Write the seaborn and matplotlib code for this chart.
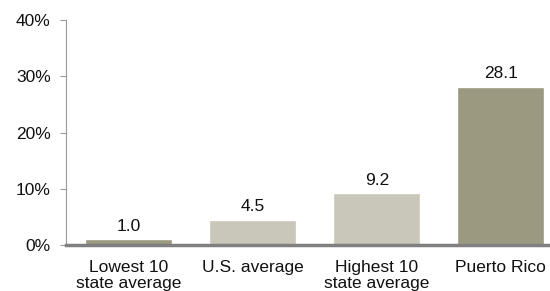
import matplotlib
matplotlib.use("Agg")
import matplotlib.pyplot as plt
import seaborn as sns
import pandas as pd
from matplotlib.ticker import FuncFormatter

# data
categories = ["Lowest 10\nstate average", "U.S. average", "Highest 10\nstate average", "Puerto Rico"]
values = [1.0, 4.5, 9.2, 28.1]
bar_colors = ["#9b9980", "#c9c7b9", "#c9c7b9", "#9b9980"]

df = pd.DataFrame({"cat": categories, "val": values})

sns.set_style("white")
plt.rcParams["font.family"] = ["Liberation Sans", "DejaVu Sans"]

fig = plt.figure(figsize=(5.5, 2.91), dpi=100)
ax = fig.add_axes([0.12, 0.158, 0.88, 0.773])

sns.barplot(data=df, x="cat", y="val", hue="cat", palette=bar_colors,
            legend=False, width=0.70, saturation=1, ax=ax)

for i, v in enumerate(values):
    ax.text(i, v + 1.0, f"{v:.1f}", ha="center", va="bottom", fontsize=12.5, color="#111111")

ax.set_ylim(0, 40)
ax.set_xlim(-0.504, 3.396)
ax.set_yticks([0, 10, 20, 30, 40])
ax.yaxis.set_major_formatter(FuncFormatter(lambda y, _: f"{y:.0f}%"))
ax.set_xlabel("")
ax.set_ylabel("")

for s in ["top", "right"]:
    ax.spines[s].set_visible(False)
ax.spines["left"].set_color("#999999")
ax.spines["left"].set_linewidth(0.8)
ax.spines["bottom"].set_color("#808080")
ax.spines["bottom"].set_linewidth(2.5)

ax.tick_params(axis="y", left=True, length=4, width=0.8, color="#999999",
               labelsize=12.5, pad=7, labelcolor="#111111")
ax.tick_params(axis="x", bottom=False, labelsize=12.5, pad=7, labelcolor="#111111")
for lbl in ax.get_xticklabels():
    lbl.set_linespacing(1.1)

fig.savefig("out.png", dpi=100)
